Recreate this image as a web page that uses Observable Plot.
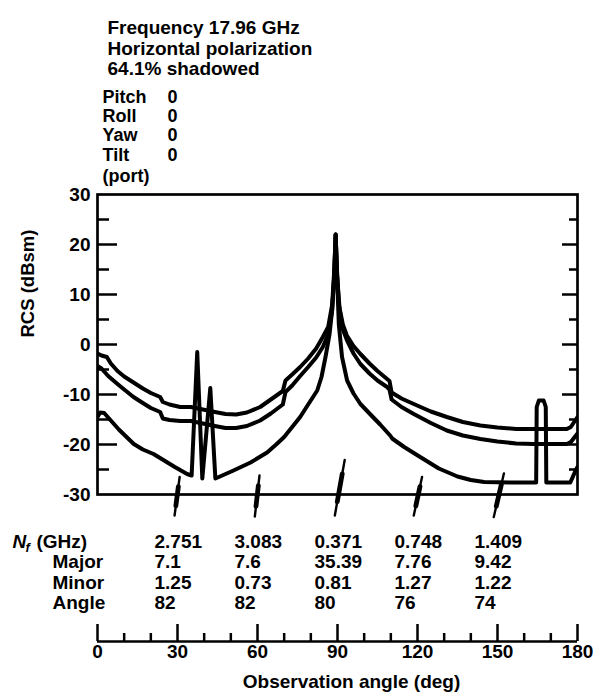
<!DOCTYPE html>
<html>
<head>
<meta charset="utf-8">
<script src="https://cdn.jsdelivr.net/npm/d3@7"></script>
<script src="https://cdn.jsdelivr.net/npm/@observablehq/plot@0.6"></script>
<style>
  html, body { margin: 0; padding: 0; background: #fff; }
  #chart { width: 595px; height: 700px; }
</style>
</head>
<body>
<div id="chart"></div>
<script>
// ---- Text ----
const infoLines = ["Frequency 17.96 GHz", "Horizontal polarization", "64.1% shadowed"];
const paramNames = ["Pitch", "Roll", "Yaw", "Tilt", "(port)"];
const paramValues = ["0", "0", "0", "0", ""];

// ---- Axes ----
const yMajorTicks = [-20, -10, 0, 10, 20];
const yMinorTicks = [-25, -15, -5, 5, 15, 25];
const yTickLabels = [-30, -20, -10, 0, 10, 20, 30];
const xMajorTicks = [0, 30, 60, 90, 120, 150, 180];
const xMinorTicks = [10, 20, 40, 50, 70, 80, 100, 110, 130, 140, 160, 170];

// ---- Curves: [observation angle (deg), RCS (dBsm)] ----
const upperCurve = [[0,-1.8],[1.5,-2.2],[3.5,-2.5],[5,-3.8],[7.5,-5.3],[10,-6.4],[13.5,-7.6],[17,-8.8],[20,-9.7],[23.5,-10.5],[24.5,-11.5],[27,-12],[31,-12.5],[35,-12.5],[44,-13.5],[48,-13.9],[52,-14],[56,-13.6],[61,-12.5],[65,-11],[69.5,-9.3],[70.5,-7.2],[73,-6],[76,-4.5],[79,-2.8],[82,-0.8],[84.5,1.5],[86.5,3.5],[88,8],[88.8,15],[89.3,22],[89.8,15],[90.5,8],[92,4],[93.5,1.8],[96,-0.3],[98.6,-1.9],[102,-3.8],[105,-5.3],[108.6,-6.9],[109.5,-7.3],[110.3,-9.6],[114,-10.8],[118.6,-11.9],[125,-13.4],[131,-14.5],[137,-15.5],[143.6,-16.2],[150,-16.6],[157,-16.9],[163.6,-16.9],[170,-16.9],[176,-16.9],[177.5,-16.5],[180,-14.5]];
const middleCurve = [[0,-4.3],[1.5,-4.8],[4,-6.3],[7.5,-7.9],[10,-9],[13.5,-10.5],[17,-11.7],[20,-12.7],[23.5,-13.5],[24.5,-14.8],[27,-15.1],[31,-15.3],[35,-15.3],[44,-16.3],[48,-16.7],[52,-16.7],[56,-16.3],[61,-15.2],[65,-13.8],[69.5,-12],[70.5,-9.5],[73,-8.2],[76,-6.3],[79,-4.5],[82,-2.6],[84.5,-0.5],[86.5,2],[88,6.8],[88.8,14],[89.3,22],[89.8,14],[90.8,7],[92,3],[93.6,0.8],[96,-1.8],[98.6,-3.9],[102,-5.8],[105,-7.2],[108.6,-8.5],[109.5,-9],[110.3,-11],[114,-12.5],[118.6,-13.9],[125,-15.7],[131,-17.2],[137,-18.2],[143.6,-18.9],[150,-19.4],[157,-19.8],[163.6,-19.9],[170,-19.9],[176,-19.9],[177.5,-19.5],[180,-17.8]];
const lowerCurve = [[0,-14.5],[1,-13.6],[2.5,-13.7],[5,-15.2],[8,-17],[13.6,-19.9],[17,-21],[21,-21.9],[25,-23.2],[29,-24.5],[33.6,-25.9],[35.3,-26.2],[37.4,-1.5],[39.3,-26.8],[42.3,-8.7],[44.2,-26.8],[45.5,-26.5],[51,-25.2],[57.4,-23.6],[63.6,-21.6],[67,-20],[70,-18.5],[73,-16.5],[76,-14.5],[79,-12],[82.4,-9.2],[84,-6.5],[85.5,-2.5],[87,2],[88,7],[88.8,14],[89.3,22],[89.8,14],[90.5,4],[91.7,-2.5],[93.6,-7.2],[96,-9.8],[98.6,-11.9],[102,-13.8],[106,-16],[109.9,-18.3],[110.5,-18.8],[115,-20.5],[121,-22.5],[128,-24.8],[135,-26.4],[140,-27.1],[145,-27.5],[155,-27.6],[164.5,-27.6],[164.7,-12.5],[165.5,-11.2],[167.3,-11.2],[168.1,-12.5],[168.3,-27.6],[177.3,-27.6],[179.2,-25.3],[180,-24.5]];

// ---- N_f markers (slanted ellipse strokes): top and bottom ends ----
const markerTop = [[30.8,-26.5],[60.75,-26.2],[92.7,-23.1],[121.7,-26.5],[152.4,-25.8]];
const markerBottom = [[28.9,-34.2],[59,-34.4],[89,-34.2],[118.6,-34.2],[148.6,-34.5]];

// ---- Table ----
const columnAngle = [30, 60, 90, 120, 150];
const nfGHz = ["2.751", "3.083", "0.371", "0.748", "1.409"];
const majorAxis = ["7.1", "7.6", "35.39", "7.76", "9.42"];
const minorAxis = ["1.25", "0.73", "0.81", "1.27", "1.22"];
const ellipseAngle = ["82", "82", "80", "76", "74"];
const rowNames = ["Major", "Minor", "Angle"];

const idx = d3.range(columnAngle.length);
const lerp = (a, b, t) => a + (b - a) * t;

const marks = [];
// top info text
const infoDy = [-173.7, -152.8, -132.8];
infoLines.forEach((t, i) => marks.push(Plot.text([t], {frameAnchor: "top-left", dx: 10, dy: infoDy[i], textAnchor: "start"})));
const paramDy = [-104.5, -85.2, -65.9, -46.4, -25.5];
paramNames.forEach((t, i) => {
  marks.push(Plot.text([t], {frameAnchor: "top-left", dx: 5, dy: paramDy[i], textAnchor: "start", fontSize: 18}));
  if (paramValues[i]) marks.push(Plot.text([paramValues[i]], {frameAnchor: "top-left", dx: 70, dy: paramDy[i], textAnchor: "start", fontSize: 18}));
});

// frame + y ticks
marks.push(Plot.frame({stroke: "black", strokeWidth: 2.7}));
marks.push(Plot.tickY(yMajorTicks, {y: d => d, insetRight: 460, strokeWidth: 2.5}));
marks.push(Plot.tickY(yMinorTicks, {y: d => d, insetRight: 468, strokeWidth: 2.5}));
marks.push(Plot.tickY(yMajorTicks, {y: d => d, insetLeft: 465, strokeWidth: 2.5}));
marks.push(Plot.tickY(yMinorTicks, {y: d => d, insetLeft: 472, strokeWidth: 2.5}));
marks.push(Plot.text(yTickLabels, {y: d => d, text: d => String(d), frameAnchor: "left", textAnchor: "end", dx: -7}));
marks.push(Plot.text(["RCS (dBsm)"], {frameAnchor: "left", rotate: -90, dx: -69, dy: -7, fontSize: 18.5}));

// curves
for (const c of [upperCurve, middleCurve, lowerCurve]) {
  marks.push(Plot.line(c, {x: d => d[0], y: d => d[1], stroke: "black", strokeWidth: 4, strokeLinejoin: "round", strokeLinecap: "round", clip: true}));
}

// N_f markers
marks.push(Plot.link(idx, {x1: i => markerTop[i][0], y1: i => markerTop[i][1], x2: i => markerBottom[i][0], y2: i => markerBottom[i][1], stroke: "black", strokeWidth: 2.4, strokeLinecap: "round"}));
marks.push(Plot.link(idx, {
  x1: i => lerp(markerTop[i][0], markerBottom[i][0], 0.25), y1: i => lerp(markerTop[i][1], markerBottom[i][1], 0.25),
  x2: i => lerp(markerTop[i][0], markerBottom[i][0], 0.75), y2: i => lerp(markerTop[i][1], markerBottom[i][1], 0.75),
  stroke: "black", strokeWidth: 4.8, strokeLinecap: "round"}));

// table
const rowDy = [53, 73.5, 94, 114.5];
[nfGHz, majorAxis, minorAxis, ellipseAngle].forEach((row, r) => {
  marks.push(Plot.text(idx, {x: i => columnAngle[i], text: i => row[i], frameAnchor: "bottom", dy: rowDy[r], dx: -23, textAnchor: "start"}));
});
rowNames.forEach((t, r) => marks.push(Plot.text([t], {frameAnchor: "bottom-left", dx: -45, dy: rowDy[r + 1]})));
marks.push(Plot.text(["N"], {frameAnchor: "bottom-left", dx: -85, dy: rowDy[0], textAnchor: "start", fontStyle: "italic"}));
marks.push(Plot.text(["f"], {frameAnchor: "bottom-left", dx: -72, dy: rowDy[0] + 4, textAnchor: "start", fontStyle: "italic", fontSize: 13}));
marks.push(Plot.text(["(GHz)"], {frameAnchor: "bottom-left", dx: -61, dy: rowDy[0], textAnchor: "start"}));

// bottom observation-angle axis
marks.push(Plot.ruleY([-30], {dy: 147, stroke: "black", strokeWidth: 2.5}));
marks.push(Plot.tickX(xMajorTicks, {x: d => d, insetTop: 283, dy: 147, strokeWidth: 2.5}));
marks.push(Plot.tickX(xMinorTicks, {x: d => d, insetTop: 292, dy: 147, strokeWidth: 2.5}));
marks.push(Plot.text(xMajorTicks, {x: d => d, text: d => String(d), frameAnchor: "bottom", dy: 163}));
marks.push(Plot.text(["Observation angle (deg)"], {frameAnchor: "bottom", dy: 193, dx: 14}));

const chart = Plot.plot({
  width: 595,
  height: 700,
  marginTop: 194,
  marginBottom: 206,
  marginLeft: 97,
  marginRight: 18,
  x: {domain: [0, 180], axis: null},
  y: {domain: [-30, 30], axis: null},
  style: {fontFamily: "'Liberation Sans', Arial, sans-serif", fontWeight: "bold", fontSize: "19px", color: "black", background: "white", overflow: "visible"},
  marks
});
document.getElementById("chart").appendChild(chart);
</script>
</body>
</html>
